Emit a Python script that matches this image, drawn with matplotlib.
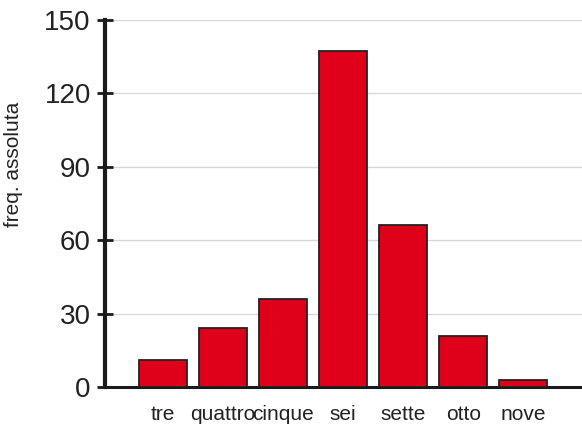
import matplotlib.pyplot as plt

# frequenze assolute per categoria
categorie = ["tre", "quattro", "cinque", "sei", "sette", "otto", "nove"]
frequenze = [11, 24, 36, 137, 66, 21, 3]
yticks = [0, 30, 60, 90, 120, 150]

plt.rcParams["font.family"] = ["Liberation Sans", "DejaVu Sans"]

fig = plt.figure(figsize=(5.82, 4.26), dpi=100)
ax = fig.add_axes([0.180, 0.0915, 0.82, 0.8625])

x = range(len(categorie))
ax.bar(x, frequenze, width=0.8, color="#de0019", edgecolor="#222222", linewidth=1.3, zorder=3)

ax.set_xlim(-0.97, 6.98)
ax.set_ylim(0, 150)
ax.set_yticks(yticks)
ax.set_xticks(list(x))
ax.set_xticklabels(categorie, fontsize=15, color="#222222")
ax.tick_params(axis="x", length=0, pad=13)
ax.tick_params(axis="y", direction="inout", length=12, width=2, labelsize=20,
               labelcolor="#222222", color="#1a1a1a", pad=4)

ax.yaxis.grid(True, color="#d8d8d8", linewidth=1, zorder=0)
ax.set_axisbelow(True)

for s in ["top", "right"]:
    ax.spines[s].set_visible(False)
ax.spines["left"].set_linewidth(3)
ax.spines["bottom"].set_linewidth(2.2)
ax.spines["left"].set_color("#1a1a1a")
ax.spines["bottom"].set_color("#1a1a1a")

ax.set_ylabel("freq. assoluta", fontsize=15, color="#222222")
ax.yaxis.set_label_coords(-0.172, 0.605)

fig.savefig("out.png", dpi=100)
